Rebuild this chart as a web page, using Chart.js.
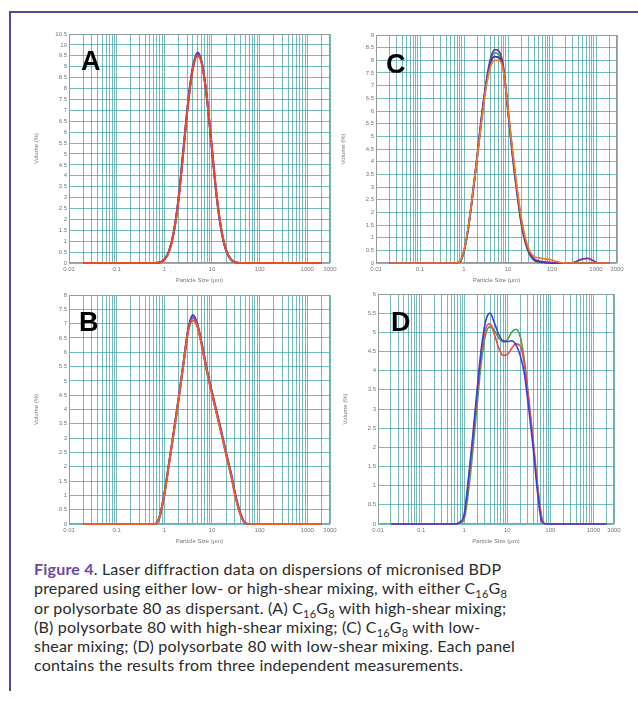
<!DOCTYPE html>
<html lang="en">
<head>
<meta charset="UTF-8">
<title>Figure 4</title>
<script src="https://cdn.jsdelivr.net/npm/chart.js@4.4.0/dist/chart.umd.min.js"></script>
<style>
  html, body { margin: 0; padding: 0; background: #fff; }
  #page { position: relative; width: 638px; height: 702px; overflow: hidden; background: #fff; }
  #frameTop { position: absolute; left: 9px; top: 11px; width: 629px; height: 2px; background: #5d429e; }
  #frameLeft { position: absolute; left: 9px; top: 11px; width: 2px; height: 680px; background: #5d429e; }
  canvas { position: absolute; }
  .letter { position: absolute; font-family: "Liberation Sans", Arial, sans-serif; font-weight: bold;
            font-size: 27px; line-height: 27px; color: #000; }
  #caption { position: absolute; left: 34px; top: 559px; width: 600px; font-family: Lato, "Open Sans", sans-serif;
             font-size: 16px; line-height: 19.3px; color: #2a2a2a; letter-spacing: 0.2px; }
  #caption b { color: #6a4aa6; font-weight: bold; }
  #caption sub { font-size: 11px; line-height: 0; vertical-align: -4px; }
</style>
</head>
<body>
<div id="page">
  <div id="frameTop"></div>
  <div id="frameLeft"></div>
  <canvas id="chartA" width="327" height="261" style="left:18px;top:26px"></canvas>
  <canvas id="chartC" width="307" height="261" style="left:325px;top:26px"></canvas>
  <canvas id="chartB" width="327" height="261" style="left:18px;top:287px"></canvas>
  <canvas id="chartD" width="302" height="261" style="left:327px;top:287px"></canvas>
  <div class="letter" style="left:81px;top:48px">A</div>
  <div class="letter" style="left:386px;top:51px">C</div>
  <div class="letter" style="left:79px;top:309px">B</div>
  <div class="letter" style="left:391px;top:309px">D</div>
  <div id="caption"><b>Figure 4</b>. Laser diffraction data on dispersions of micronised BDP<br>
prepared using either low- or high-shear mixing, with either C<sub>16</sub>G<sub>8</sub><br>
or polysorbate 80 as dispersant. (A) C<sub>16</sub>G<sub>8</sub> with high-shear mixing;<br>
(B) polysorbate 80 with high-shear mixing; (C) C<sub>16</sub>G<sub>8</sub> with low-<br>
shear mixing; (D) polysorbate 80 with low-shear mixing. Each panel<br>
contains the results from three independent measurements.</div>
</div>
<script>
// particle size bins (µm), shared by every panel
const sizes = [0.02, 0.631, 0.794, 1, 1.259, 1.585, 1.995, 2.512, 3.162, 3.981, 5.012, 6.31, 7.943,
  10, 12.59, 15.85, 19.95, 25.12, 31.62, 39.81, 50.12, 63.1, 79.43, 100, 125.9, 158.5, 199.5,
  251.2, 316.2, 398.1, 501.2, 631, 794.3, 1000, 1259, 2000];

// volume (%)
const a1 = [0, 0, 0.03, 0.16, 0.56, 1.45, 3.0, 5.2, 7.4, 9.0, 9.65, 9.05, 7.45, 5.2, 3.0, 1.45, 0.55, 0.15, 0.03, 0, 0, 0, 0, 0, 0, 0, 0, 0, 0, 0, 0, 0, 0, 0, 0, 0];
const a2 = [0, 0, 0.02, 0.15, 0.54, 1.42, 2.95, 5.15, 7.35, 8.95, 9.6, 9.05, 7.45, 5.25, 3.05, 1.48, 0.57, 0.16, 0.03, 0, 0, 0, 0, 0, 0, 0, 0, 0, 0, 0, 0, 0, 0, 0, 0, 0];
const a3 = [0, 0, 0.02, 0.14, 0.52, 1.4, 2.92, 5.1, 7.3, 8.9, 9.5, 9.0, 7.45, 5.25, 3.05, 1.5, 0.58, 0.17, 0.04, 0, 0, 0, 0, 0, 0, 0, 0, 0, 0, 0, 0, 0, 0, 0, 0, 0];

const b1 = [0, 0, 0.25, 1.05, 2.15, 3.25, 4.4, 5.6, 6.8, 7.3, 6.95, 6.2, 5.35, 4.62, 3.92, 3.22, 2.48, 1.78, 0.97, 0.36, 0.03, 0, 0, 0, 0, 0, 0, 0, 0, 0, 0, 0, 0, 0, 0, 0];
const b2 = [0, 0, 0.24, 1.03, 2.12, 3.22, 4.37, 5.57, 6.76, 7.22, 6.9, 6.15, 5.3, 4.56, 3.86, 3.16, 2.42, 1.72, 0.92, 0.33, 0.02, 0, 0, 0, 0, 0, 0, 0, 0, 0, 0, 0, 0, 0, 0, 0];
const b3 = [0, 0, 0.24, 1.02, 2.11, 3.21, 4.35, 5.55, 6.72, 7.12, 6.86, 6.12, 5.28, 4.54, 3.84, 3.14, 2.4, 1.7, 0.9, 0.31, 0.02, 0, 0, 0, 0, 0, 0, 0, 0, 0, 0, 0, 0, 0, 0, 0];

const c1 = [0, 0, 0.05, 0.5, 1.45, 2.8, 4.25, 5.8, 7.1, 8.05, 8.42, 8.35, 7.7, 6.0, 4.3, 2.85, 1.6, 0.8, 0.35, 0.15, 0.08, 0.05, 0.03, 0.02, 0.01, 0, 0, 0, 0.03, 0.1, 0.16, 0.18, 0.13, 0.03, 0, 0];
const c2 = [0, 0, 0.04, 0.45, 1.4, 2.75, 4.2, 5.75, 7.05, 7.95, 8.3, 8.2, 7.6, 5.95, 4.25, 2.8, 1.55, 0.75, 0.3, 0.1, 0.04, 0.02, 0, 0, 0, 0, 0, 0, 0, 0, 0, 0, 0, 0, 0, 0];
const c3 = [0, 0, 0.04, 0.45, 1.4, 2.7, 4.15, 5.7, 7.0, 7.9, 8.15, 8.1, 7.6, 6.05, 4.4, 2.95, 1.7, 0.85, 0.35, 0.12, 0.05, 0.03, 0.01, 0, 0, 0, 0, 0, 0, 0, 0, 0, 0, 0, 0, 0];
const c4 = [0, 0, 0.05, 0.5, 1.45, 2.75, 4.15, 5.6, 6.9, 7.75, 8.0, 8.0, 7.55, 6.1, 4.5, 3.05, 1.8, 0.95, 0.45, 0.25, 0.2, 0.17, 0.15, 0.12, 0.06, 0.02, 0, 0, 0, 0, 0, 0, 0, 0, 0, 0];

const d1 = [0, 0, 0.05, 0.25, 1.2, 2.3, 3.5, 4.6, 5.3, 5.5, 5.25, 4.95, 4.78, 4.76, 4.78, 4.68, 4.4, 3.9, 3.0, 2.0, 0.85, 0.06, 0, 0, 0, 0, 0, 0, 0, 0, 0, 0, 0, 0, 0, 0];
const d2 = [0, 0, 0.04, 0.2, 1.1, 2.2, 3.4, 4.5, 5.1, 5.22, 4.95, 4.6, 4.4, 4.42, 4.58, 4.7, 4.65, 4.15, 3.2, 2.15, 1.0, 0.15, 0, 0, 0, 0, 0, 0, 0, 0, 0, 0, 0, 0, 0, 0];
const d3 = [0, 0, 0.02, 0.12, 0.85, 1.9, 3.1, 4.25, 4.95, 5.15, 5.05, 4.85, 4.75, 4.8, 5.0, 5.08, 4.9, 4.25, 3.25, 2.2, 1.05, 0.18, 0, 0, 0, 0, 0, 0, 0, 0, 0, 0, 0, 0, 0, 0];

const xTickLabels = ['0.01', '0.1', '1', '10', '100', '1000', '3000'];

// log grid: 1..9 in each decade, then 2000 and 3000
const xGrid = [];
[0.01, 0.1, 1, 10, 100].forEach(d => { for (let k = 1; k <= 9; k++) xGrid.push(+(d * k).toPrecision(3)); });
xGrid.push(1000, 2000, 3000);

const gridColor = 'rgba(55,160,160,0.7)';
const tickFont = { size: 6, family: 'Liberation Sans' };

// grey box round the plot area, under the curves
const frame = {
  id: 'frame',
  beforeDatasetsDraw(chart) {
    const a = chart.chartArea, ctx = chart.ctx;
    ctx.save();
    ctx.strokeStyle = '#8e9c9c';
    ctx.lineWidth = 1;
    ctx.strokeRect(Math.round(a.left) + 0.5, Math.round(a.top) + 0.5, Math.round(a.right - a.left) - 1, Math.round(a.bottom - a.top) - 1);
    ctx.restore();
  }
};

// first series in the list is drawn on top
function panel(id, ymax, series, colors, padTop, lw) {
  new Chart(document.getElementById(id), {
    type: 'line',
    data: {
      datasets: series.map((vals, i) => ({
        data: sizes.map((s, j) => ({ x: s, y: vals[j] })),
        borderColor: colors[i],
        borderWidth: lw,
        pointRadius: 0,
        fill: false,
        clip: 3,
        cubicInterpolationMode: 'monotone'
      }))
    },
    options: {
      responsive: false,
      animation: false,
      layout: { padding: { top: padTop, right: 15, left: 0, bottom: 0 } },
      plugins: { legend: { display: false }, tooltip: { enabled: false } },
      scales: {
        x: {
          type: 'logarithmic',
          min: 0.01,
          max: 3000,
          afterBuildTicks: s => { s.ticks = xGrid.map(v => ({ value: v })); },
          afterFit: s => { s.height = 24; },
          grid: { color: gridColor, lineWidth: 1, drawTicks: false },
          border: { display: false },
          ticks: {
            autoSkip: false, maxRotation: 0, padding: 3,
            font: tickFont, color: '#777',
            callback: v => (xTickLabels.includes(String(v)) ? String(v) : '')
          },
          title: { display: true, text: 'Particle Size (µm)', font: tickFont, color: '#777', padding: { top: 0, bottom: 3 } }
        },
        y: {
          min: 0,
          max: ymax,
          afterFit: s => { s.width = 51; },
          grid: { color: gridColor, lineWidth: 1, drawTicks: false },
          border: { display: false },
          ticks: { stepSize: 0.5, padding: 2, font: tickFont, color: '#777', callback: v => String(v) },
          title: { display: true, text: 'Volume (%)', font: tickFont, color: '#777', padding: { top: 15, bottom: 0 } }
        }
      }
    },
    plugins: [frame]
  });
}

panel('chartA', 10.5, [a3, a2, a1], ['#ea4a2a', '#7d3fa3', '#3535c8'], 8, 2);
panel('chartC', 9, [c4, c1, c3, c2], ['#f07a2a', '#7a2f9c', '#2b2fb0', '#3f9e5a'], 9, 1.7);
panel('chartB', 8, [b3, b2, b1], ['#ea5a2a', '#8a4aa0', '#3535c8'], 8, 2);
panel('chartD', 6, [d1, d2, d3], ['#3c3ce0', '#f04848', '#4aa04a'], 7, 1.6);
</script>
</body>
</html>
